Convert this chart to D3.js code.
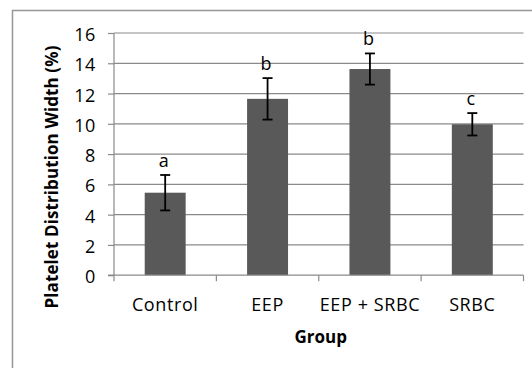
<!DOCTYPE html>
<html>
<head>
<meta charset="utf-8">
<script src="https://cdn.jsdelivr.net/npm/d3@7"></script>
<style>
  body { margin: 0; background: #fff; }
  text { font-family: "Open Sans", sans-serif; fill: #000; }
</style>
</head>
<body>
<div id="chart"></div>
<script>
// data
var groups = ["Control", "EEP", "EEP + SRBC", "SRBC"];
var means = [5.45, 11.65, 13.62, 9.97];
var errors = [1.17, 1.37, 1.03, 0.74];
var letters = ["a", "b", "b", "c"];
var yTicks = [0, 2, 4, 6, 8, 10, 12, 14, 16];

var svgWidth = 532;
var svgHeight = 368;

var margin = {
    t: 33,
    r: 8.5,
    b: 92.8,
    l: 114
};

var width = svgWidth - margin.l - margin.r;
var height = svgHeight - margin.t - margin.b;

var svg = d3.select("#chart")
    .append("svg")
    .attr("width", svgWidth)
    .attr("height", svgHeight);

// outer chart border (runs off the right / bottom edge like the source)
svg.append("rect")
    .attr("x", 12.5)
    .attr("y", 10.5)
    .attr("width", 560)
    .attr("height", 400)
    .attr("fill", "none")
    .attr("stroke", "#969696")
    .attr("stroke-width", 1.5);

var chartGroup = svg.append("g")
    .attr("transform", `translate(${margin.l}, ${margin.t})`);

var xScale = d3.scaleBand()
    .domain(groups)
    .range([0, width])
    .paddingInner(0.6)
    .paddingOuter(0.3);

var yScale = d3.scaleLinear()
    .domain([0, 16])
    .range([height, 0]);

// gridlines
chartGroup.append("g")
    .selectAll("line")
    .data(yTicks.slice(1))
    .enter()
    .append("line")
    .attr("x1", 0)
    .attr("x2", width)
    .attr("y1", d => yScale(d))
    .attr("y2", d => yScale(d))
    .attr("stroke", "#8a8a8a")
    .attr("stroke-width", 1.2);

// y axis
var leftAxis = d3.axisLeft(yScale)
    .tickValues(yTicks)
    .tickSize(6)
    .tickPadding(12);

var yAxisG = chartGroup.append("g").call(leftAxis);
yAxisG.selectAll("path, line")
    .attr("stroke", "#8a8a8a")
    .attr("stroke-width", 1.2);
yAxisG.select(".domain").attr("d", `M-6,${height}H0V0`);
yAxisG.selectAll("text")
    .attr("dy", "0.42em")
    .style("font-size", "18px")
    .style("letter-spacing", "0.6px");

// bars
chartGroup.selectAll(".bar")
    .data(groups)
    .enter()
    .append("rect")
    .attr("class", "bar")
    .attr("x", d => xScale(d))
    .attr("y", (d, i) => yScale(means[i]))
    .attr("width", xScale.bandwidth())
    .attr("height", (d, i) => height - yScale(means[i]))
    .attr("fill", "#595959");

// x axis: labels at band centres, ticks at category boundaries
var bottomAxis = d3.axisBottom(xScale).tickSize(0);
var xAxisG = chartGroup.append("g")
    .attr("transform", `translate(0, ${height})`)
    .call(bottomAxis);
xAxisG.select(".domain")
    .attr("stroke", "#8a8a8a")
    .attr("stroke-width", 1.2)
    .attr("d", `M0,0H${width}`);
xAxisG.selectAll("text")
    .attr("dy", null)
    .attr("y", 36)
    .style("font-size", "18px")
    .style("letter-spacing", "0.6px");

var step = xScale.step();
var bounds = d3.range(groups.length + 1)
    .map(i => xScale(groups[0]) + xScale.bandwidth() / 2 - step / 2 + i * step);
xAxisG.selectAll(".bound")
    .data(bounds)
    .enter()
    .append("line")
    .attr("class", "bound")
    .attr("x1", d => d)
    .attr("x2", d => d)
    .attr("y1", 0)
    .attr("y2", 6)
    .attr("stroke", "#8a8a8a")
    .attr("stroke-width", 1.2);

// error bars
var errG = chartGroup.selectAll(".err")
    .data(groups)
    .enter()
    .append("g")
    .attr("class", "err")
    .attr("transform", d => `translate(${xScale(d) + xScale.bandwidth() / 2}, 0)`);

errG.append("line")
    .attr("y1", (d, i) => yScale(means[i] + errors[i]))
    .attr("y2", (d, i) => yScale(means[i] - errors[i]))
    .attr("stroke", "#000")
    .attr("stroke-width", 1.8);

errG.selectAll(".cap")
    .data((d, i) => [means[i] + errors[i], means[i] - errors[i]])
    .enter()
    .append("line")
    .attr("class", "cap")
    .attr("x1", -5)
    .attr("x2", 5)
    .attr("y1", d => yScale(d))
    .attr("y2", d => yScale(d))
    .attr("stroke", "#000")
    .attr("stroke-width", 1.8);

// significance letters
chartGroup.selectAll(".sig")
    .data(groups)
    .enter()
    .append("text")
    .attr("class", "sig")
    .attr("x", d => xScale(d) + xScale.bandwidth() / 2 - 1.5)
    .attr("y", (d, i) => yScale(means[i] + errors[i]) - 8)
    .attr("text-anchor", "middle")
    .style("font-size", "18px")
    .text((d, i) => letters[i]);

// axis titles
chartGroup.append("text")
    .attr("transform", "rotate(-90)")
    .attr("x", 0 - 144)
    .attr("y", 57.5 - margin.l)
    .attr("text-anchor", "middle")
    .style("font-size", "17px")
    .style("font-weight", "bold")
    .style("letter-spacing", "0.1px")
    .text("Platelet Distribution Width (%)");

chartGroup.append("text")
    .attr("x", width / 2 + 2)
    .attr("y", height + 67.5)
    .attr("text-anchor", "middle")
    .style("font-size", "17px")
    .style("font-weight", "bold")
    .text("Group");
</script>
</body>
</html>
